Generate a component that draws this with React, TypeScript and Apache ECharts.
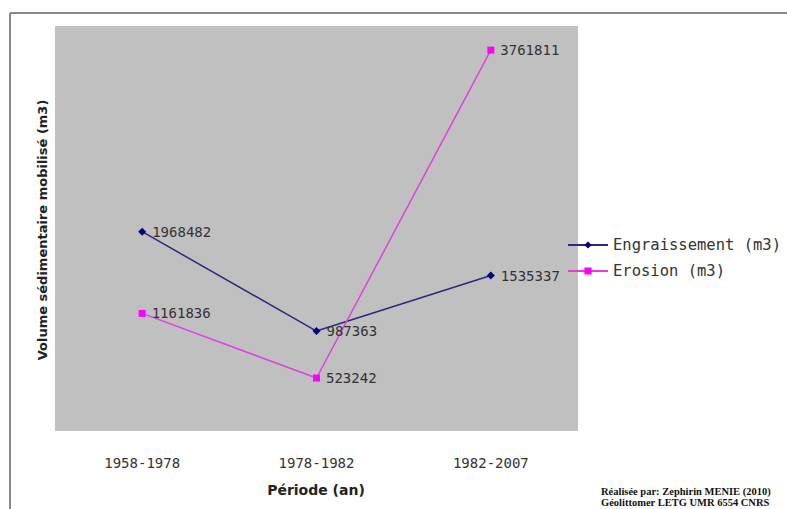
import React, { useEffect, useRef } from "react";
import * as echarts from "echarts";

const categories = ["1958-1978", "1978-1982", "1982-2007"];
const engraissement = [1968482, 987363, 1535337];
const erosion = [1161836, 523242, 3761811];
const seriesNames = ["Engraissement (m3)", "Erosion (m3)"];
const yAxisTitle = "Volume sédimentaire mobilisé (m3)";
const xAxisTitle = "Période (an)";
const credits = ["Réalisée par: Zephirin MENIE (2010)", "Géolittomer LETG UMR 6554 CNRS"];

export default function App() {
  const ref = useRef<HTMLDivElement>(null);
  useEffect(() => {
    if (!ref.current) return;
    const chart = echarts.init(ref.current, null, { renderer: "svg" });
    const mono = "'DejaVu Sans Mono', monospace";
    const labelStyle = {
      show: true,
      position: "right" as const,
      distance: 6,
      color: "#333",
      fontFamily: mono,
      fontSize: 14,
    };
    chart.setOption({
      animation: false,
      backgroundColor: "#ffffff",
      grid: {
        left: 55,
        top: 26,
        width: 523,
        height: 405,
        show: true,
        backgroundColor: "#c0c0c0",
        borderWidth: 0,
      },
      xAxis: {
        type: "category",
        data: categories,
        boundaryGap: true,
        axisLine: { show: false },
        axisTick: { show: false },
        axisLabel: { color: "#333", fontFamily: mono, fontSize: 14, margin: 25 },
      },
      yAxis: {
        type: "value",
        min: 0,
        max: 4000000,
        show: false,
      },
      legend: {
        orient: "vertical",
        left: 562,
        top: 232,
        itemWidth: 40,
        itemHeight: 9,
        itemGap: 10,
        textStyle: { color: "#333", fontFamily: mono, fontSize: 15.5 },
        data: seriesNames,
      },
      series: [
        {
          name: seriesNames[0],
          type: "line",
          data: engraissement,
          symbol: "diamond",
          symbolSize: 8,
          itemStyle: { color: "#000080" },
          lineStyle: { color: "#2a2a7a", width: 1.5 },
          label: labelStyle,
        },
        {
          name: seriesNames[1],
          type: "line",
          data: erosion,
          symbol: "rect",
          symbolSize: 7,
          itemStyle: { color: "#ff00ff" },
          lineStyle: { color: "#e040e0", width: 1.5 },
          label: labelStyle,
        },
      ],
      graphic: [
        {
          type: "line",
          shape: { x1: 10, y1: 13, x2: 787, y2: 13 },
          style: { stroke: "#888", lineWidth: 2 },
        },
        {
          type: "line",
          shape: { x1: 10, y1: 13, x2: 10, y2: 509 },
          style: { stroke: "#888", lineWidth: 2 },
        },
        {
          type: "text",
          x: 42,
          y: 230,
          rotation: Math.PI / 2,
          style: {
            text: yAxisTitle,
            fill: "#222",
            font: "bold 13px 'DejaVu Sans', sans-serif",
            align: "center",
            verticalAlign: "middle",
          },
        },
        {
          type: "text",
          x: 316,
          y: 490,
          style: {
            text: xAxisTitle,
            fill: "#222",
            font: "bold 14px 'DejaVu Sans', sans-serif",
            align: "center",
            verticalAlign: "middle",
          },
        },
        {
          type: "text",
          x: 601,
          y: 491,
          style: {
            text: credits[0],
            fill: "#111",
            font: "bold 10.5px 'Liberation Serif', serif",
            align: "left",
            verticalAlign: "middle",
          },
        },
        {
          type: "text",
          x: 601,
          y: 502,
          style: {
            text: credits[1],
            fill: "#111",
            font: "bold 10.5px 'Liberation Serif', serif",
            align: "left",
            verticalAlign: "middle",
          },
        },
      ],
    });
    return () => chart.dispose();
  }, []);
  return (
    <div
      ref={ref}
      style={{ position: "absolute", left: 0, top: 0, width: 787, height: 509 }}
    />
  );
}
